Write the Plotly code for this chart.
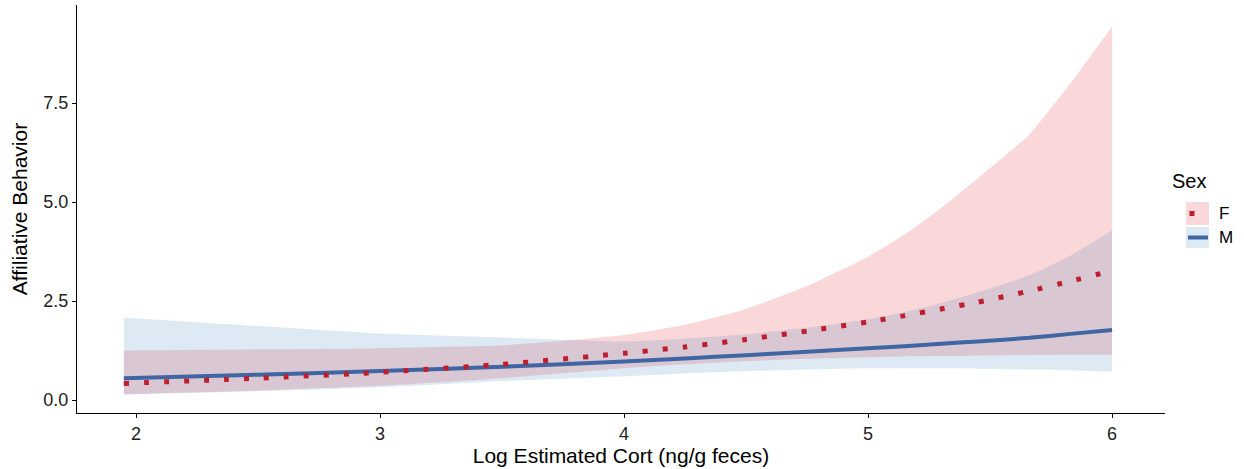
import plotly.graph_objects as go

# Prediction grid (Log Estimated Cort)
cort = [1.95, 2.5, 3.0, 3.5, 4.0, 4.25, 4.5, 4.75, 5.0, 5.15, 5.3, 5.45, 5.66, 5.83, 6.0]

# Female fitted values and 95% CI
f_fit = [0.42, 0.55, 0.70, 0.90, 1.18, 1.34, 1.53, 1.74, 1.97, 2.13, 2.30, 2.47, 2.75, 3.00, 3.27]
f_upper = [1.25, 1.28, 1.31, 1.38, 1.64, 1.90, 2.30, 2.88, 3.62, 4.18, 4.85, 5.60, 6.70, 8.00, 9.43]
f_lower = [0.14, 0.24, 0.36, 0.55, 0.80, 0.90, 0.98, 1.04, 1.08, 1.10, 1.11, 1.12, 1.13, 1.14, 1.14]

# Male fitted values and 95% CI
m_fit = [0.55, 0.64, 0.73, 0.84, 0.97, 1.05, 1.13, 1.22, 1.31, 1.36, 1.42, 1.48, 1.57, 1.67, 1.77]
m_upper = [2.08, 1.87, 1.68, 1.58, 1.48, 1.55, 1.66, 1.83, 2.04, 2.22, 2.45, 2.72, 3.15, 3.65, 4.29]
m_lower = [0.14, 0.22, 0.32, 0.48, 0.60, 0.67, 0.73, 0.77, 0.80, 0.80, 0.80, 0.79, 0.77, 0.75, 0.72]

x_ticks = [2, 3, 4, 5, 6]
y_ticks = [0.0, 2.5, 5.0, 7.5]
y_tick_text = ["0.0", "2.5", "5.0", "7.5"]

F_FILL = "rgba(228,26,28,0.17)"
M_FILL = "rgba(55,126,184,0.17)"
F_LINE = "#BE1E2D"
M_LINE = "#3F65A3"
FONT = "Liberation Sans, Arial, sans-serif"

fig = go.Figure()

edge = dict(width=0, shape="spline", smoothing=0.5)
# Female ribbon
fig.add_trace(go.Scatter(x=cort, y=f_lower, mode="lines", line=edge,
                         hoverinfo="skip", showlegend=False))
fig.add_trace(go.Scatter(x=cort, y=f_upper, mode="lines", line=edge,
                         fill="tonexty", fillcolor=F_FILL,
                         hoverinfo="skip", showlegend=False))
# Male ribbon
fig.add_trace(go.Scatter(x=cort, y=m_lower, mode="lines", line=edge,
                         hoverinfo="skip", showlegend=False))
fig.add_trace(go.Scatter(x=cort, y=m_upper, mode="lines", line=edge,
                         fill="tonexty", fillcolor=M_FILL,
                         hoverinfo="skip", showlegend=False))
# Male line
fig.add_trace(go.Scatter(x=cort, y=m_fit, mode="lines", name="M",
                         line=dict(color=M_LINE, width=4, shape="spline", smoothing=0.5),
                         showlegend=False))
# Female line (dotted)
fig.add_trace(go.Scatter(x=cort, y=f_fit, mode="lines", name="F",
                         line=dict(color=F_LINE, width=5, dash="5px,15px",
                                   shape="spline", smoothing=0.5),
                         showlegend=False))

# Manual ggplot-like legend
def px_x(p):
    return (p - 77) / 1088.0

def px_y(p):
    return (413 - p) / 408.0

shapes = [
    dict(type="rect", xref="paper", yref="paper", x0=px_x(1186), x1=px_x(1209),
         y0=px_y(225), y1=px_y(202), fillcolor=F_FILL, line=dict(width=0)),
    dict(type="rect", xref="paper", yref="paper", x0=px_x(1189.5), x1=px_x(1194.5),
         y0=px_y(216), y1=px_y(211), fillcolor=F_LINE, line=dict(width=0)),
    dict(type="rect", xref="paper", yref="paper", x0=px_x(1186), x1=px_x(1209),
         y0=px_y(248), y1=px_y(227), fillcolor=M_FILL, line=dict(width=0)),
    dict(type="line", xref="paper", yref="paper", x0=px_x(1188), x1=px_x(1208),
         y0=px_y(237.5), y1=px_y(237.5), line=dict(color=M_LINE, width=4)),
]
annotations = [
    dict(text="Sex", xref="paper", yref="paper", x=px_x(1170), y=px_y(181),
         xanchor="left", yanchor="middle", showarrow=False,
         font=dict(family=FONT, size=20, color="black")),
    dict(text="F", xref="paper", yref="paper", x=px_x(1217), y=px_y(213.5),
         xanchor="left", yanchor="middle", showarrow=False,
         font=dict(family=FONT, size=17, color="black")),
    dict(text="M", xref="paper", yref="paper", x=px_x(1217), y=px_y(237.5),
         xanchor="left", yanchor="middle", showarrow=False,
         font=dict(family=FONT, size=17, color="black")),
]

fig.update_layout(
    width=1244, height=469,
    margin=dict(l=77, r=79, t=5, b=56),
    plot_bgcolor="white", paper_bgcolor="white",
    font=dict(family=FONT, color="black"),
    shapes=shapes, annotations=annotations,
    xaxis=dict(range=[1.758, 6.217], tickvals=x_ticks, showgrid=False, zeroline=False,
               showline=True, linecolor="black", linewidth=1.3, automargin=False,
               ticks="outside", ticklen=4, tickcolor="black", tickwidth=1.2,
               tickfont=dict(family=FONT, size=18, color="#222"),
               title=dict(text="Log Estimated Cort (ng/g feces)", standoff=3,
                          font=dict(family=FONT, size=21, color="black"))),
    yaxis=dict(range=[-0.328, 9.975], tickvals=y_ticks, ticktext=y_tick_text,
               showgrid=False, zeroline=False, automargin=False,
               showline=True, linecolor="black", linewidth=1.3,
               ticks="outside", ticklen=4, tickcolor="black", tickwidth=1.2,
               tickfont=dict(family=FONT, size=18, color="#222"),
               title=dict(text="Affiliative Behavior", standoff=9,
                          font=dict(family=FONT, size=21, color="black"))),
)

fig.write_html("out.html")
